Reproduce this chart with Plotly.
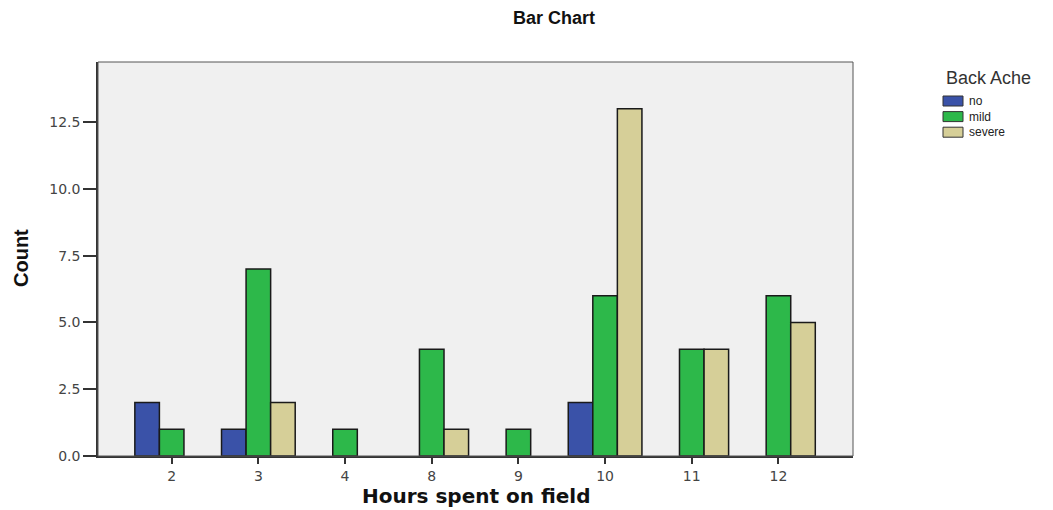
import plotly.graph_objects as go

hours = ["2", "3", "4", "8", "9", "10", "11", "12"]
no_counts = [2, 1, None, None, None, 2, None, None]
mild_counts = [1, 7, 1, 4, 1, 6, 4, 6]
severe_counts = [None, 2, None, 1, None, 13, 4, 5]
y_ticks = [0, 2.5, 5, 7.5, 10, 12.5]
legend_title = "Back Ache"

series = [
    ("no", no_counts, "#3a52a8"),
    ("mild", mild_counts, "#2db84a"),
    ("severe", severe_counts, "#d6cf98"),
]

# The page body has an 8px default margin; size the figure to fit the window.
OFF = 8
W, H = 1053 - OFF, 510 - OFF
L, R, T, B = 90, 200, 54, 54
PW, PH = W - L - R, H - T - B


def px_x(x):  # screen pixel -> paper
    return (x - OFF - L) / PW


def px_y(y):  # screen pixel -> paper
    return (H - B - (y - OFF)) / PH


fig = go.Figure()
for name, vals, col in series:
    fig.add_trace(go.Bar(
        x=hours, y=vals, name=name, showlegend=False,
        marker=dict(color=col, line=dict(color="#1a1a1a", width=1.5)),
    ))

fig.update_layout(
    width=W, height=H,
    margin=dict(l=L, r=R, t=T, b=B, autoexpand=False),
    paper_bgcolor="white",
    plot_bgcolor="#f0f0f0",
    barmode="group",
    bargap=0.15,
    bargroupgap=0,
    font=dict(family="Liberation Sans, Arial", color="#333333"),
    title=dict(text="<b>Bar Chart</b>", x=(554 - OFF) / W, xanchor="center",
               y=1 - (18 - OFF) / H, yanchor="middle",
               font=dict(size=18, color="#111111", family="Liberation Sans, Arial")),
    showlegend=False,
)

fig.update_xaxes(
    type="category", automargin=False,
    range=[-0.85, 7.86],
    showline=True, linecolor="#333333", linewidth=1.5,
    ticks="outside", ticklen=6, tickwidth=2, tickcolor="#333333",
    tickfont=dict(family="DejaVu Sans, Verdana", size=14, color="#444444"),
    showgrid=False,
)
fig.update_yaxes(
    automargin=False,
    range=[0, 14.75],
    tickvals=y_ticks, tickformat=".1f",
    showline=True, linecolor="#333333", linewidth=1.5,
    ticks="outside", ticklen=13, tickwidth=1.5, tickcolor="#333333",
    tickfont=dict(family="DejaVu Sans, Verdana", size=14, color="#444444"),
    showgrid=False, zeroline=False,
)

# frame around plot area
fig.add_shape(type="rect", xref="paper", yref="paper", x0=0, y0=0, x1=1, y1=1,
              line=dict(color="#555555", width=1), layer="above")

# axis titles
fig.add_annotation(text="<b>Hours spent on field</b>", xref="paper", yref="paper",
                   x=px_x(476), y=px_y(496), xanchor="center", yanchor="middle",
                   showarrow=False,
                   font=dict(family="DejaVu Sans, Verdana", size=20, color="#111111"))
fig.add_annotation(text="<b>Count</b>", xref="paper", yref="paper",
                   x=px_x(21), y=px_y(258), xanchor="center", yanchor="middle",
                   textangle=-90, showarrow=False,
                   font=dict(family="Liberation Sans Narrow, Liberation Sans, Arial",
                             size=20, color="#111111"))

# legend (drawn manually to match compact spacing)
fig.add_annotation(text=legend_title, xref="paper", yref="paper",
                   x=px_x(988), y=px_y(78), xanchor="center", yanchor="middle",
                   showarrow=False,
                   font=dict(family="Liberation Sans, Arial", size=18, color="#333333"))
LEG_FS = 12
step = LEG_FS * 1.3
first_cy = 101
for i, (name, vals, col) in enumerate(series):
    cy = first_cy + step * i
    fig.add_shape(type="rect", xref="paper", yref="paper",
                  x0=px_x(943), x1=px_x(963), y0=px_y(cy - 5), y1=px_y(cy + 5),
                  fillcolor=col, line=dict(color="#333333", width=1))
fig.add_annotation(text="<br>".join(n for n, _, _ in series),
                   xref="paper", yref="paper", align="left",
                   x=px_x(967), y=px_y(first_cy + step), xanchor="left", yanchor="middle",
                   showarrow=False,
                   font=dict(family="Liberation Sans, Arial", size=LEG_FS, color="#222222"))

fig.write_html("out.html")
